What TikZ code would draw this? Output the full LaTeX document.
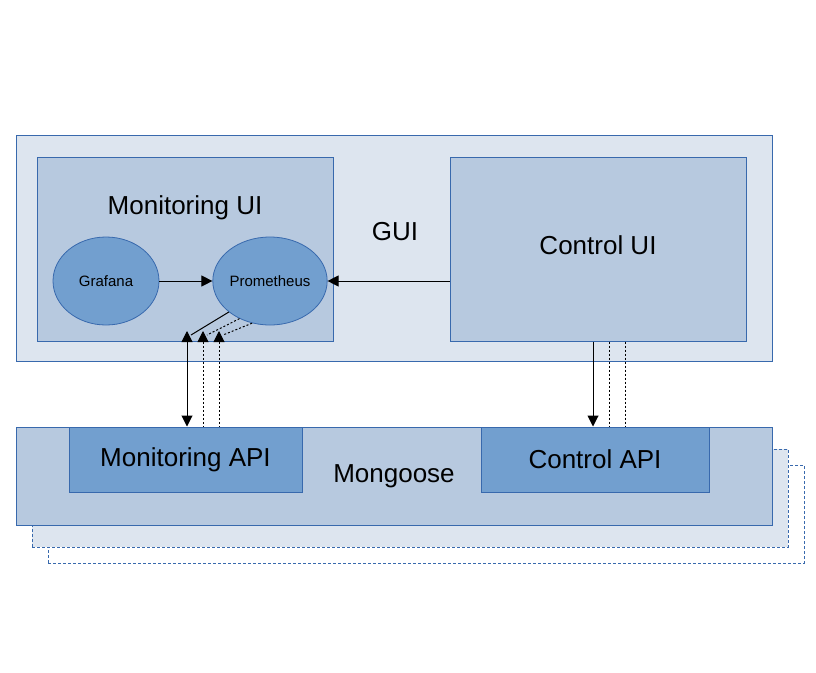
\documentclass[tikz,border=0pt]{standalone}
\usepackage{fontspec}
\setsansfont{Liberation Sans}
\usetikzlibrary{arrows.meta,positioning,shapes.geometric}
\definecolor{guiback}{RGB}{221,229,239}
\definecolor{boxfill}{RGB}{183,201,223}
\definecolor{darkfill}{RGB}{114,159,207}
\definecolor{rahmen}{RGB}{56,105,173}
\tikzset{
    %Define standard arrow tip
    >={Triangle[length=11pt,width=11pt]},
    %Define style for boxes
    kasten/.style={
           rectangle,
           draw=rahmen, line width=1pt,
           fill=boxfill,
           inner sep=0pt},
    %Define style for the ellipses
    blase/.style={
           ellipse,
           draw=rahmen, line width=0.8pt,
           fill=darkfill,
           minimum width=106pt,
           minimum height=88pt,
           inner sep=0pt,
           klein},
    %Define text styles
    gross/.style={font=\sffamily\fontsize{26}{30}\selectfont},
    klein/.style={font=\sffamily\fontsize{15}{18}\selectfont},
    % Define arrow styles
    pfeil/.style={
           ->,
           line width=1pt},
    punkte/.style={
           line width=1pt,
           dash pattern=on 2pt off 2pt}
}
\begin{document}
\begin{tikzpicture}[x=1pt,y=-1pt,font=\sffamily]
 \useasboundingbox (0,0) rectangle (816,672);
 %GUI
 \node[kasten,fill=guiback,minimum width=756pt,minimum height=226pt] (gui) at (394,248) {};
 \node[gross] (guilbl) at (395,232) {GUI};
 \node[kasten,minimum width=296pt,minimum height=184pt] (monui) at (185,249) {};
 \node[gross] (monlbl) at (185,208) {Monitoring UI};
 \node[kasten,minimum width=296pt,minimum height=184pt,
       label={[gross,yshift=4pt]center:Control UI}] (ctlui) at (598,249) {};
 \node[blase] (grafana) at (106,281) {Grafana};
 \node[blase,right=53pt of grafana] (prom) {Prometheus};

 %Mongoose
 \node[kasten,fill=white,draw=rahmen,line width=0.8pt,dash pattern=on 3pt off 2pt,
       minimum width=756pt,minimum height=98pt] (mong3) at (426,514) {};
 \node[kasten,fill=guiback,draw=rahmen,line width=0.8pt,dash pattern=on 3pt off 2pt,
       minimum width=756pt,minimum height=98pt] (mong2) at (410,498) {};
 \node[kasten,gross,minimum width=756pt,minimum height=98pt] (mong) at (394,476) {Mongoose};
 \node[kasten,gross,fill=darkfill,minimum width=233pt,minimum height=65pt] (mapi) at (185.5,459.5) {Monitoring API};
 \node[kasten,gross,fill=darkfill,minimum width=228pt,minimum height=65pt] (capi) at (595,459.5) {Control API};

 \draw[pfeil] (grafana) -- (prom);
 \draw[pfeil] (ctlui.west |- prom.east) -- (prom.east);

 %Prometheus <-> Monitoring API
 \coordinate (t1) at (187,331);
 \coordinate (t2) at (203,331);
 \coordinate (t3) at (219,331);
 \draw[line width=1pt] (prom.217) -- ([shift={(4,4)}]t1);
 \draw[pfeil,<->] (t1) -- (t1 |- mapi.north);
 \draw[punkte] (prom.231) -- ([shift={(4,4)}]t2);
 \draw[punkte,<-] (t2) -- (t2 |- mapi.north);
 \draw[punkte] (prom.247) -- ([shift={(4,4)}]t3);
 \draw[punkte,<-] (t3) -- (t3 |- mapi.north);

 %Control UI -> Control API
 \draw[pfeil] ([xshift=-5pt]ctlui.south) -- ([xshift=-5pt]ctlui.south |- capi.north);
 \draw[punkte] ([xshift=11pt]ctlui.south) -- ([xshift=11pt]ctlui.south |- capi.north);
 \draw[punkte] ([xshift=27pt]ctlui.south) -- ([xshift=27pt]ctlui.south |- capi.north);
\end{tikzpicture}
\end{document}
